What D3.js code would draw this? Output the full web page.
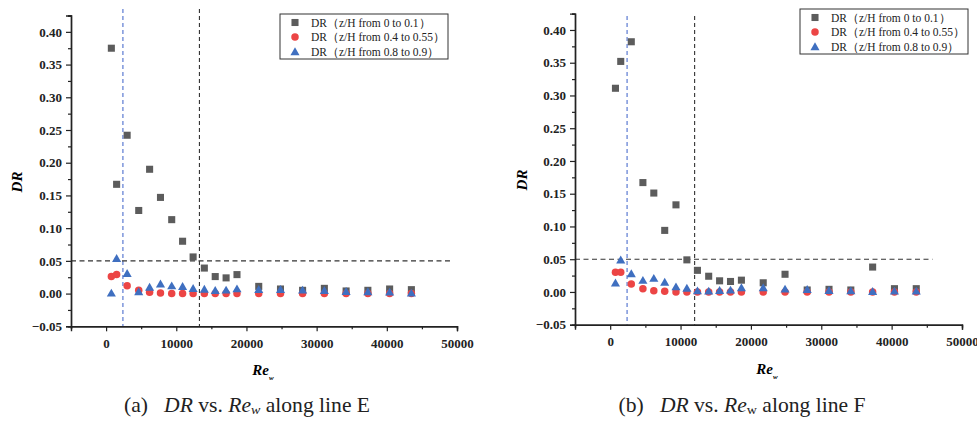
<!DOCTYPE html>
<html>
<head>
<meta charset="utf-8">
<script src="https://cdn.jsdelivr.net/npm/d3@7"></script>
<style>
  body { margin: 0; background: #fff; }
  svg { display: block; }
</style>
</head>
<body>
<div id="container"></div>
<script>
// Re_w of the measuring points (same for line E and line F)
const reW = [750, 1500, 3000, 4650, 6200, 7750, 9350, 10900, 12400, 14000, 15550,
  17100, 18650, 21750, 24850, 28000, 31100, 34200, 37300, 40400, 43500];

// line E
const drTopE = [0.375, 0.167, 0.242, 0.127, 0.190, 0.147, 0.113, 0.080, 0.056, 0.039, 0.026,
  0.024, 0.029, 0.011, 0.007, 0.005, 0.008, 0.004, 0.005, 0.007, 0.006];
const drMidE = [0.026, 0.029, 0.012, 0.005, 0.002, 0.001, 0.000, 0.000, 0.000, 0.000, 0.000,
  0.000, 0.000, 0.000, 0.000, 0.000, 0.000, 0.000, 0.000, 0.000, 0.000];
const drBotE = [0.001, 0.054, 0.031, 0.003, 0.010, 0.015, 0.012, 0.011, 0.008, 0.007, 0.005,
  0.0055, 0.0075, 0.0066, 0.0066, 0.0055, 0.005, 0.0035, 0.003, 0.0025, 0.001];

// line F
const drTopF = [0.311, 0.352, 0.382, 0.167, 0.151, 0.094, 0.133, 0.049, 0.033, 0.024, 0.017,
  0.016, 0.018, 0.014, 0.027, 0.003, 0.004, 0.003, 0.038, 0.005, 0.005];
const drMidF = [0.030, 0.030, 0.012, 0.005, 0.002, 0.001, 0.000, 0.000, 0.000, 0.000, 0.000,
  0.000, 0.000, 0.000, 0.000, 0.000, 0.000, 0.000, 0.000, 0.000, 0.000];
const drBotF = [0.014, 0.049, 0.028, 0.018, 0.021, 0.015, 0.008, 0.006, 0.002, 0.0015, 0.0025,
  0.003, 0.0066, 0.0066, 0.0046, 0.004, 0.0025, 0.002, 0.001, 0.0015, 0.0015];

const seriesNames = ["DR（z/H from 0 to 0.1）", "DR（z/H from 0.4 to 0.55）", "DR（z/H from 0.8 to 0.9）"];
const xTicks = [0, 10000, 20000, 30000, 40000, 50000];
const yTicks = [-0.05, 0.00, 0.05, 0.10, 0.15, 0.20, 0.25, 0.30, 0.35, 0.40];

// reference lines
const drLimit = 0.05;
const reBlueLine = [2400, 2400];      // E, F
const reBlackLine = [13300, 12000];   // E, F
const reLimitEnd = [49000, 45800];    // end of the DR = 0.05 line

const colors = ["#5c5c5c", "#ec4545", "#3f6fc0"];
const shapes = [d3.symbolSquare, d3.symbolCircle, d3.symbolTriangle];
const sizes = [50, 44, 36];

const width = 977, height = 426;
const serif = "'Liberation Serif', 'Times New Roman', serif";

const svg = d3.select('#container')
  .append('svg')
  .attr('width', width)
  .attr('height', height)
  .style('font-family', serif);

const panels = [
  {
    series: [drTopE, drMidE, drBotE], idx: 0,
    x0: 71, x1: 457, yTop: 15.5, yBot: 326.3, vTop: 9,
    legend: { x: 280, y: 14, w: 168, h: 45 },
    drLabel: [17, 182], reLabel: [263, 375],
    caption: { x: 247, label: "(a)", line: "E", wItalic: true }
  },
  {
    series: [drTopF, drMidF, drBotF], idx: 1,
    x0: 575, x1: 962, yTop: 13.6, yBot: 324.7, vTop: 16,
    legend: { x: 800, y: 9, w: 168, h: 45 },
    drLabel: [522, 180], reLabel: [767, 374],
    caption: { x: 742, label: "(b)", line: "F", wItalic: false }
  }
];

panels.forEach(drawPanel);

function drawPanel(p) {
  const x = d3.scaleLinear().domain([-5000, 50000]).range([p.x0, p.x1]);
  const y = d3.scaleLinear().domain([-0.05, 0.425]).range([p.yBot, p.yTop]);
  const g = svg.append('g');

  // reference lines
  g.append('line')
    .attr('x1', x(reBlueLine[p.idx])).attr('x2', x(reBlueLine[p.idx]))
    .attr('y1', p.vTop).attr('y2', p.yBot)
    .attr('stroke', '#3a5fc8').attr('stroke-width', 1)
    .attr('stroke-dasharray', '4,3');
  g.append('line')
    .attr('x1', x(reBlackLine[p.idx])).attr('x2', x(reBlackLine[p.idx]))
    .attr('y1', p.vTop).attr('y2', p.yBot)
    .attr('stroke', '#333').attr('stroke-width', 1.1)
    .attr('stroke-dasharray', '4,3');
  g.append('line')
    .attr('x1', x(-5000)).attr('x2', x(reLimitEnd[p.idx]))
    .attr('y1', y(drLimit)).attr('y2', y(drLimit))
    .attr('stroke', '#333').attr('stroke-width', 1.1)
    .attr('stroke-dasharray', '5,3.5');

  // axes
  const xAxis = d3.axisBottom(x).tickValues(xTicks).tickFormat(d3.format('d'))
    .tickSize(5).tickPadding(7);
  const xMinor = d3.axisBottom(x).tickValues(d3.range(-5000, 50001, 10000))
    .tickSize(3).tickFormat('');
  const yAxis = d3.axisLeft(y).tickValues(yTicks).tickFormat(d3.format('.2f'))
    .tickSize(5).tickPadding(4);
  const yMinor = d3.axisLeft(y).tickValues(d3.range(-0.025, 0.426, 0.05))
    .tickSize(3).tickFormat('');

  [xMinor, xAxis].forEach(a => {
    g.append('g').attr('transform', `translate(0,${p.yBot})`).call(a);
  });
  [yMinor, yAxis].forEach(a => {
    g.append('g').attr('transform', `translate(${p.x0},0)`).call(a);
  });
  g.selectAll('.domain').attr('stroke', '#222').attr('stroke-width', 1.4);
  g.selectAll('.tick line').attr('stroke', '#222').attr('stroke-width', 1.2);
  g.selectAll('.tick text')
    .attr('font-family', serif).attr('font-size', 13).attr('font-weight', 'bold').attr('fill', '#222');

  // points
  p.series.forEach((vals, i) => {
    g.append('g').selectAll('path')
      .data(vals.map((v, j) => [reW[j], v]))
      .enter()
      .append('path')
      .attr('d', d3.symbol().type(shapes[i]).size(sizes[i]))
      .attr('transform', d => `translate(${x(d[0])},${y(d[1]) + (i === 2 ? 1 : 0)})`)
      .attr('fill', colors[i]);
  });

  // legend
  const lg = g.append('g').attr('transform', `translate(${p.legend.x},${p.legend.y})`);
  lg.append('rect')
    .attr('width', p.legend.w).attr('height', p.legend.h)
    .attr('fill', '#fff').attr('stroke', '#333').attr('stroke-width', 1);
  seriesNames.forEach((name, i) => {
    const ry = 8.5 + i * 14.5;
    lg.append('path')
      .attr('d', d3.symbol().type(shapes[i]).size(sizes[i]))
      .attr('transform', `translate(15,${ry + (i === 2 ? 1 : 0)})`)
      .attr('fill', colors[i]);
    lg.append('text')
      .attr('x', 31).attr('y', ry + 4)
      .attr('font-size', 11.5).attr('fill', '#222')
      .text(name);
  });

  // axis titles
  g.append('text')
    .attr('transform', `translate(${p.drLabel[0]},${p.drLabel[1]}) rotate(-90)`)
    .attr('text-anchor', 'middle').attr('dy', '0.35em')
    .attr('font-size', 15).attr('font-weight', 'bold').attr('font-style', 'italic')
    .text('DR');
  const re = g.append('text')
    .attr('x', p.reLabel[0]).attr('y', p.reLabel[1])
    .attr('text-anchor', 'middle')
    .attr('font-size', 15).attr('font-weight', 'bold').attr('font-style', 'italic');
  re.append('tspan').text('Re');
  re.append('tspan').attr('font-size', 7).attr('dy', 5).text('w');

  // caption
  const cap = svg.append('text')
    .attr('transform', `translate(${p.caption.x},412) scale(1.08,1)`)
    .attr('text-anchor', 'middle')
    .attr('font-size', 20).attr('fill', '#222');
  cap.append('tspan').text(p.caption.label + '\u00a0\u00a0\u00a0');
  cap.append('tspan').attr('font-style', 'italic').text('DR');
  cap.append('tspan').text(' vs. ');
  cap.append('tspan').attr('font-style', 'italic').text('Re');
  cap.append('tspan').attr('font-size', 13).attr('dy', 2)
    .attr('font-style', p.caption.wItalic ? 'italic' : 'normal').text('w');
  cap.append('tspan').attr('dy', -2).text(' along line ' + p.caption.line);
}
</script>
</body>
</html>
